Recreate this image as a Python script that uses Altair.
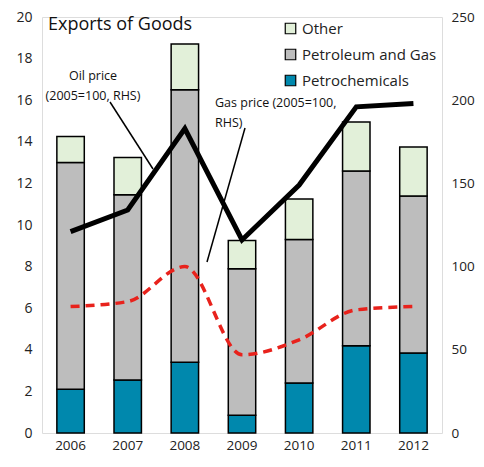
import altair as alt
import pandas as pd

years = ["2006", "2007", "2008", "2009", "2010", "2011", "2012"]
petrochemicals = [2.1, 2.55, 3.4, 0.85, 2.4, 4.2, 3.85]
petroleum_gas = [10.9, 8.9, 13.1, 7.05, 6.9, 8.4, 7.55]
other = [1.25, 1.8, 2.2, 1.35, 1.95, 2.35, 2.35]
oil_price = [121, 134, 183, 116, 149, 196, 198]
gas_price = [76, 79, 100, 47, 56, 74, 76]

series = ["Other", "Petroleum and Gas", "Petrochemicals"]
colors = ["#e2f0d9", "#bdbdbd", "#0088ad"]
FONT = "Open Sans"

rows = []
for i, y in enumerate(years):
    rows.append({"year": y, "series": "Petrochemicals", "value": petrochemicals[i], "ord": 0})
    rows.append({"year": y, "series": "Petroleum and Gas", "value": petroleum_gas[i], "ord": 1})
    rows.append({"year": y, "series": "Other", "value": other[i], "ord": 2})
bars_df = pd.DataFrame(rows)
lines_df = pd.DataFrame({"year": years, "oil": oil_price, "gas": gas_price})

xscale = alt.Scale(paddingInner=0.52, paddingOuter=0.26)
xenc = alt.X("year:N", scale=xscale, title=None,
             axis=alt.Axis(labelAngle=0, labelFontSize=13.5, labelFont=FONT, labelColor="#222",
                           domain=False, ticks=False, labelPadding=5))

bars = alt.Chart(bars_df).mark_bar(stroke="black", strokeWidth=1.5).encode(
    x=xenc,
    y=alt.Y("value:Q", scale=alt.Scale(domain=[0, 20]), title=None,
            axis=alt.Axis(values=list(range(0, 21, 2)), labelFontSize=14, labelFont=FONT,
                          labelColor="#222", grid=False, domain=False, ticks=False,
                          labelPadding=10)),
    color=alt.Color("series:N", scale=alt.Scale(domain=series, range=colors),
                    legend=alt.Legend(title=None, orient="none", legendX=241, legendY=4,
                                      symbolType="square", symbolSize=110,
                                      symbolStrokeColor="black", symbolStrokeWidth=1.2,
                                      labelFontSize=15, labelFont=FONT, labelColor="#222",
                                      rowPadding=9, labelOffset=4)),
    order=alt.Order("ord:Q", sort="ascending"),
)

yright = alt.Y("oil:Q", scale=alt.Scale(domain=[0, 250]), title=None,
               axis=alt.Axis(orient="right", values=[0, 50, 100, 150, 200, 250],
                             labelFontSize=13.5, labelFont=FONT, labelColor="#222",
                             grid=False, domain=False, ticks=False, labelPadding=9))

oil = alt.Chart(lines_df).mark_line(color="black", strokeWidth=5).encode(
    x=alt.X("year:N", scale=xscale), y=yright)
gas = alt.Chart(lines_df).mark_line(color="#e8221c", strokeWidth=3.5, strokeDash=[9, 6],
                                    interpolate="monotone").encode(
    x=alt.X("year:N", scale=xscale),
    y=alt.Y("gas:Q", scale=alt.Scale(domain=[0, 250]), axis=None))

ann_df = pd.DataFrame({"d": [0]})
base = alt.Chart(ann_df)
title_txt = base.mark_text(text="Exports of Goods", align="left", baseline="middle",
                           fontSize=18, font=FONT, color="#111").encode(
    x=alt.value(6), y=alt.value(8))
oil_t1 = base.mark_text(text="Oil price", align="center", fontSize=12.5, font=FONT,
                        color="#111", baseline="middle").encode(x=alt.value(51), y=alt.value(59))
oil_t2 = base.mark_text(text="(2005=100, RHS)", align="center", fontSize=12.5, font=FONT,
                        color="#111", baseline="middle").encode(x=alt.value(51), y=alt.value(79))
gas_t1 = base.mark_text(text="Gas price (2005=100,", align="left", fontSize=12.5, font=FONT,
                        color="#111", baseline="middle").encode(x=alt.value(173), y=alt.value(86))
gas_t2 = base.mark_text(text="RHS)", align="left", fontSize=12.5, font=FONT,
                        color="#111", baseline="middle").encode(x=alt.value(173), y=alt.value(106))
oil_lead = base.mark_rule(color="black", strokeWidth=1.5).encode(
    x=alt.value(68), y=alt.value(85), x2=alt.value(111), y2=alt.value(152))
gas_lead = base.mark_rule(color="black", strokeWidth=1.5).encode(
    x=alt.value(203), y=alt.value(111), x2=alt.value(165), y2=alt.value(245))

chart = alt.layer(
    bars, oil, gas, title_txt, oil_t1, oil_t2, gas_t1, gas_t2, oil_lead, gas_lead
).resolve_scale(y="independent", color="independent").properties(
    width=400, height=416,
    autosize=alt.AutoSizeParams(type="none"),
    padding={"left": 34, "top": 9, "right": 34, "bottom": 20},
).configure_view(stroke="#d0d0d0", strokeWidth=2).configure(background="white")

chart.save("out.html", embed_options={"renderer": "svg", "actions": False})
